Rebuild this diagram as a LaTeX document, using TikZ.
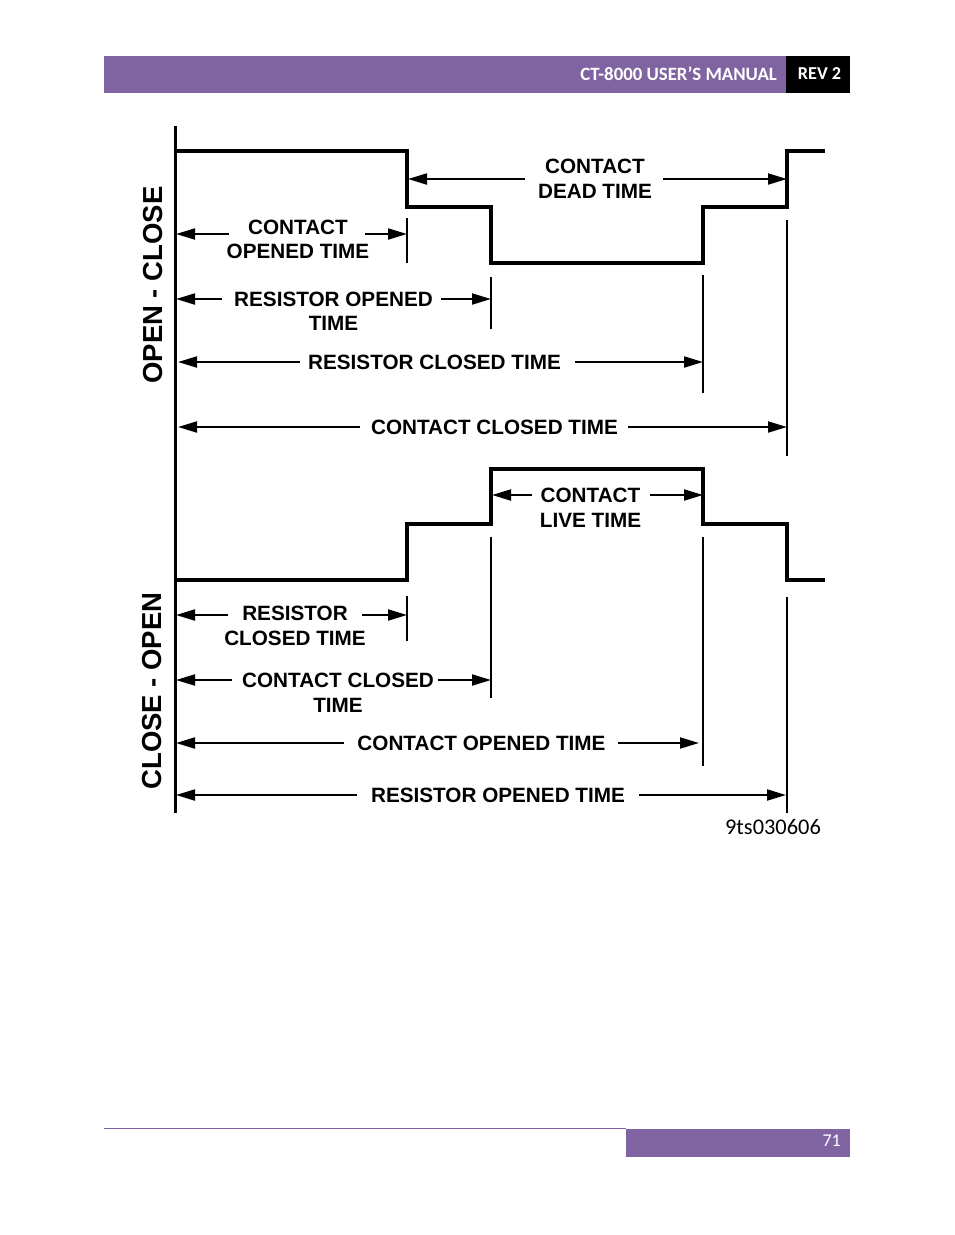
\documentclass[tikz,border=0pt]{standalone}
\usepackage{fontspec}
\setmainfont{Liberation Sans}
\newfontfamily\carlito{Carlito}
\usepackage{xcolor}
\usetikzlibrary{arrows.meta, positioning}
\definecolor{headerpurple}{HTML}{8064A2}
\tikzset{
	wave/.style={line width=4.7pt, miter limit=10},
	axis/.style={line width=3pt},
	tick/.style={line width=2.8pt},
	dim/.style={line width=2pt, -{Triangle[length=19pt, width=11pt]}},
	lbl/.style={font=\fontsize{20.7}{22}\selectfont\bfseries, inner sep=0pt, anchor=center},
	side/.style={font=\fontsize{27.5}{30}\selectfont\bfseries, inner sep=0pt, rotate=90},
	band/.style={fill=headerpurple, draw=none}
}
\begin{document}
\begin{tikzpicture}[x=1pt, y=-1pt]
	\useasboundingbox (0,0) rectangle (954,1235);

	% page furniture
	\path[band] (104,56) rectangle (786,93);
	\fill[black] (786,56) rectangle (850,93);
	\node[font=\carlito\fontsize{18.8}{20}\selectfont\bfseries, text=white, anchor=east, inner sep=0pt](manual) at (777,74) {CT-8000 USER’S MANUAL};
	\node[font=\carlito\fontsize{18.2}{20}\selectfont\bfseries, text=white, inner sep=0pt](rev) at (819.5,74) {REV 2};
	\draw[headerpurple, line width=1pt] (104,1128.5) -- (626,1128.5);
	\path[band] (626,1129) rectangle (850,1157);
	\node[font=\carlito\fontsize{18}{20}\selectfont, text=white, anchor=east, inner sep=0pt](pageno) at (841,1140.5) {71};

	% axis and the two traces
	\draw[axis] (175,126) -- (175,813);
	\draw[wave] (175,151) -| (407,207) -| (491,263) -| (703,207) -| (787,151) -- (825,151);
	\draw[wave] (175,580) -| (407,524) -| (491,469) -| (703,524) -| (787,580) -- (825,580);

	% drop lines
	\foreach \x/\ya/\yb in {407/218/263, 491/277/329, 703/275/393, 787/220/456, 407/596/641, 491/537/698, 703/537/766, 787/597/813}
		\draw[tick] (\x,\ya) -- (\x,\yb);

	\node[side](openclose) at (153.5,285) {OPEN - CLOSE};
	\node[side](closeopen) at (152,691) {CLOSE - OPEN};

	% open - close labels
	\node[lbl](dead1) at (595,166.5) {CONTACT};
	\node[lbl](dead2) at (595,191.5) {DEAD TIME};
	\node[lbl](copen1) at (298,227.5) {CONTACT};
	\node[lbl](copen2) at (298,251.5) {OPENED TIME};
	\node[lbl](ropen1) at (333.5,299.5) {RESISTOR OPENED};
	\node[lbl](ropen2) at (333.5,323.5) {TIME};
	\node[lbl](rclosed) at (434.5,362) {RESISTOR CLOSED TIME};
	\node[lbl](cclosed) at (494.5,427) {CONTACT CLOSED TIME};

	% close - open labels
	\node[lbl](live1) at (590.5,495.5) {CONTACT};
	\node[lbl](live2) at (590.5,520.5) {LIVE TIME};
	\node[lbl](rcl1) at (295,613) {RESISTOR};
	\node[lbl](rcl2) at (295,638) {CLOSED TIME};
	\node[lbl](ccl1) at (338,680) {CONTACT CLOSED};
	\node[lbl](ccl2) at (338,705) {TIME};
	\node[lbl](cop) at (481.5,743) {CONTACT OPENED TIME};
	\node[lbl](rop) at (498,795) {RESISTOR OPENED TIME};
	\node[font=\carlito\fontsize{22.4}{24}\selectfont, inner sep=0pt](code) at (773,827) {9ts030606};

	% arrow ends: left tips, right tips
	\coordinate (a1l) at (408,179);  \coordinate (a1r) at (787,179);
	\coordinate (a2l) at (176,234);  \coordinate (a2r) at (407,234);
	\coordinate (a3l) at (176,299);  \coordinate (a3r) at (491,299);
	\coordinate (a4l) at (178,362);  \coordinate (a4r) at (703,362);
	\coordinate (a5l) at (178,427);  \coordinate (a5r) at (787,427);
	\coordinate (a6l) at (492,495);  \coordinate (a6r) at (703,495);
	\coordinate (a7l) at (176,615);  \coordinate (a7r) at (407,615);
	\coordinate (a8l) at (176,680);  \coordinate (a8r) at (491,680);
	\coordinate (a9l) at (176,743);  \coordinate (a9r) at (699,743);
	\coordinate (a10l) at (176,795); \coordinate (a10r) at (786,795);

	\foreach \t/\n/\gl/\gr in {dead1/a1/20/18, copen1/a2/19/17, ropen1/a3/12/8, rclosed/a4/8/14, cclosed/a5/11/10, live1/a6/8/9, rcl1/a7/14/14, ccl1/a8/10/4, cop/a9/13/12, rop/a10/14/14}{
		\draw[dim, shorten <=\gl pt] (\t.west |- \n l) -- (\n l);
		\draw[dim, shorten <=\gr pt] (\t.east |- \n r) -- (\n r);
	}
\end{tikzpicture}
\end{document}
